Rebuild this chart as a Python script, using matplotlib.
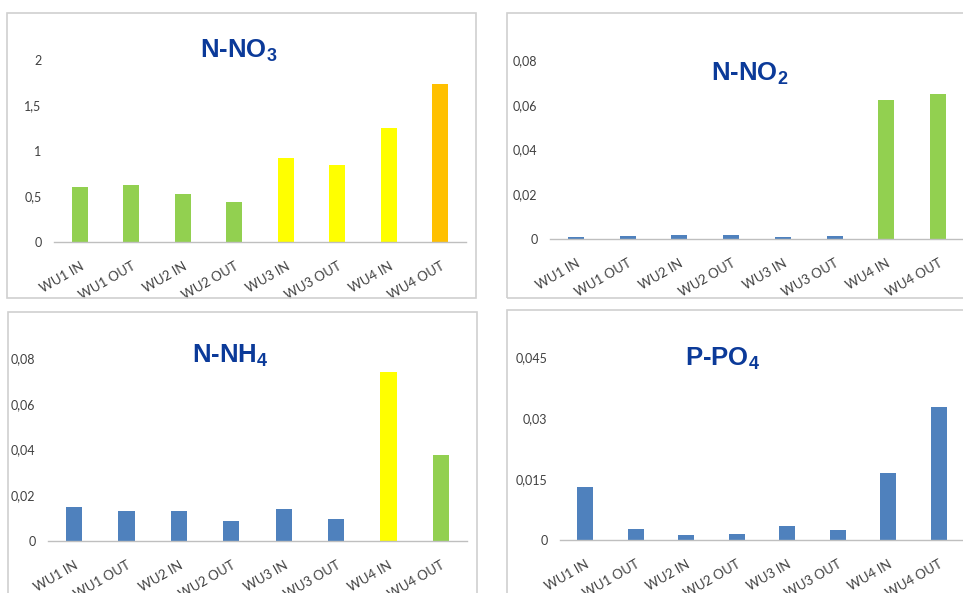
import numpy as np
import matplotlib
matplotlib.use("Agg")
import matplotlib.pyplot as plt
from matplotlib.patches import Rectangle
from matplotlib.transforms import ScaledTranslation

plt.rcParams['mathtext.fontset'] = 'custom'
plt.rcParams['mathtext.rm'] = 'Liberation Sans:bold'
plt.rcParams['mathtext.it'] = 'Liberation Sans:bold'
plt.rcParams['mathtext.bf'] = 'Liberation Sans:bold'

# ---------------- donnees ----------------
sites = ["WU1 IN", "WU1 OUT", "WU2 IN", "WU2 OUT", "WU3 IN", "WU3 OUT", "WU4 IN", "WU4 OUT"]

no3 = [0.60, 0.63, 0.53, 0.44, 0.92, 0.85, 1.25, 1.74]
no2 = [0.0010, 0.0014, 0.0019, 0.0019, 0.0010, 0.0014, 0.0621, 0.0648]
nh4 = [0.0150, 0.0133, 0.0133, 0.0089, 0.0141, 0.0098, 0.0740, 0.0377]
po4 = [0.0130, 0.0027, 0.0012, 0.0015, 0.0034, 0.0025, 0.0165, 0.0327]

vert, jaune, orange, bleu = "#92D050", "#FFFF00", "#FFC000", "#4F81BD"
coul_no3 = [vert, vert, vert, vert, jaune, jaune, jaune, orange]
coul_no2 = [bleu] * 6 + [vert, vert]
coul_nh4 = [bleu] * 6 + [jaune, vert]
coul_po4 = [bleu] * 8

ticks_no3 = [0, 0.5, 1, 1.5, 2]
lab_no3 = ["0", "0,5", "1", "1,5", "2"]
ticks_n = [0, 0.02, 0.04, 0.06, 0.08]
lab_n = ["0", "0,02", "0,04", "0,06", "0,08"]
ticks_po4 = [0, 0.015, 0.03, 0.045]
lab_po4 = ["0", "0,015", "0,03", "0,045"]

W, H = 963, 593
fig = plt.figure(figsize=(W / 100, H / 100), dpi=100)

def px(x0, y0, x1, y1):
    # pixels (haut-gauche) -> coordonnees figure
    return [x0 / W, 1 - y1 / H, (x1 - x0) / W, (y1 - y0) / H]

# cadres gris
for (x0, y0, x1, y1) in [(7, 13, 476, 298), (507, 13, 975, 298),
                         (8, 312, 477, 605), (507, 310, 975, 605)]:
    fig.patches.append(Rectangle((x0 / W, 1 - y1 / H), (x1 - x0) / W, (y1 - y0) / H,
                                 transform=fig.transFigure, fill=False,
                                 edgecolor="#D0D0D0", lw=1.2, zorder=0))

panneaux = [
    (px(54, 60, 466, 242), no3, coul_no3, ticks_no3, lab_no3, "N-NO$_3$", 239, 58),
    (px(550, 60, 964, 239), no2, coul_no2, ticks_n, lab_n, "N-NO$_2$", 750, 81),
    (px(48, 358, 467, 541), nh4, coul_nh4, ticks_n, lab_n, "N-NH$_4$", 230, 363),
    (px(560, 357, 964, 540), po4, coul_po4, ticks_po4, lab_po4, "P-PO$_4$", 723, 366),
]

decal = ScaledTranslation(-4 / 100, 0, fig.dpi_scale_trans)
x = np.arange(len(sites))
for rect, vals, coul, tk, lab, titre, tx, ty in panneaux:
    ax = fig.add_axes(rect)
    ax.bar(x, vals, width=0.31, color=coul, zorder=2)
    ax.set_xlim(-0.5, len(sites) - 0.5)
    ax.set_ylim(0, tk[-1])
    ax.set_yticks(tk)
    ax.set_yticklabels(lab, fontsize=9, color="#404040", family="Lato")
    ax.set_xticks(x)
    ax.set_xticklabels(sites, rotation=30, ha="right", va="top", rotation_mode="anchor",
                       fontsize=9.5, color="#404040", family="Lato")
    for t in ax.get_xticklabels():
        t.set_transform(t.get_transform() + decal)
    ax.tick_params(axis="y", length=0, pad=9)
    ax.tick_params(axis="x", length=0, pad=13)
    for s in ["top", "right", "left"]:
        ax.spines[s].set_visible(False)
    ax.spines["bottom"].set_color("#BFBFBF")
    ax.spines["bottom"].set_linewidth(1.0)
    ax.patch.set_alpha(0)
    fig.text(tx / W, 1 - ty / H, titre, ha="center", va="baseline",
             fontsize=18.5, fontweight="bold", color="#0B3A99", family="Liberation Sans")

fig.savefig("out.png", dpi=100)
